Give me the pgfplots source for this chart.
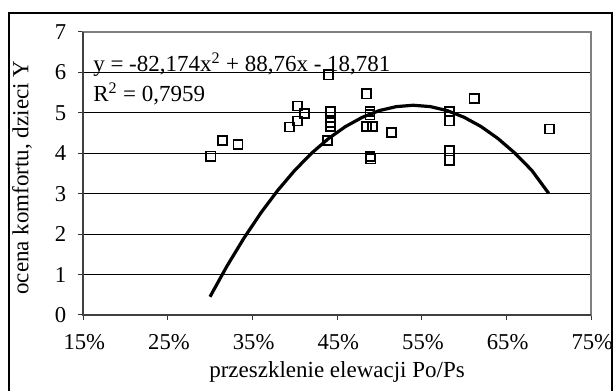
\documentclass[border=0pt]{standalone}
\usepackage{pgfplots}
\pgfplotsset{compat=1.18}
\usepackage{fontspec}
\setmainfont{Liberation Serif}
\begin{document}
\begin{tikzpicture}
\begin{axis}[
  at={(62.25pt,57pt)}, anchor=origin,
  scale only axis, width=381pt, height=212.25pt,
  xmin=15, xmax=75, ymin=0, ymax=7,
  xtick={15,25,35,45,55,65,75},
  xticklabels={15\%,25\%,35\%,45\%,55\%,65\%,75\%},
  ytick={0,1,2,3,4,5,6,7},
  yticklabels={0,1,2,3,4,5,6,7},
  tick align=outside, tick pos=left,
  major tick length=4pt,
  tick style={black!80, line width=0.75pt},
  ymajorgrids, grid style={black, line width=0.75pt},
  axis line style={draw=gray, line width=1pt},
  ticklabel style={font=\fontsize{17}{19}\selectfont},
  xticklabel style={anchor=base, yshift=-22pt, xshift=1pt},
  yticklabel style={xshift=-5pt},
  clip=false,
]
\addplot[only marks, mark=square, mark size=3.4pt, mark options={line width=1.3pt, black, fill=white}] coordinates {
(30.1,3.93) (31.45,4.31) (33.3,4.22) (39.4,4.65) (40.3,5.17) (40.3,4.80)
(41.2,4.99) (44.0,5.94) (44.2,5.03) (44.2,4.76) (44.2,4.66) (43.9,4.31)
(48.5,5.47) (48.9,5.03) (48.9,4.95) (48.5,4.66) (49.2,4.66) (48.9,3.92)
(49.0,3.86) (51.45,4.51) (58.3,5.03) (58.3,4.80) (58.3,4.06) (58.3,3.83)
(61.2,5.36) (70.1,4.60)
};
\addplot[black, line width=2.4pt] coordinates {
(30,0.451) (32,1.208) (34,1.898) (36,2.523) (38,3.082) (40,3.575) (42,4.003)
(44,4.365) (46,4.661) (48,4.891) (50,5.056) (52,5.154) (54,5.188) (56,5.155)
(58,5.057) (60,4.892) (62,4.663) (64,4.367) (66,4.006) (68,3.579) (70,3.01)
};
\draw[black!75, line width=1pt] (rel axis cs:0,1) -- (rel axis cs:0,0) -- (rel axis cs:1,0);
\end{axis}
\node[anchor=base west, inner sep=0pt, font=\fontsize{17.25}{20}\selectfont] at (69.75pt,239.25pt) {y = -82,174x\textsuperscript{2} + 88,76x - 18,781};
\node[anchor=base west, inner sep=0pt, font=\fontsize{17.25}{20}\selectfont] at (69.75pt,216.75pt) {R\textsuperscript{2} = 0,7959};
\node[anchor=base, inner sep=0pt, font=\fontsize{17.25}{20}\selectfont] at (252.75pt,10pt) {przeszklenie elewacji Po/Ps};
\node[anchor=center, rotate=90, inner sep=0pt, font=\fontsize{17.25}{20}\selectfont] at (16.5pt,160pt) {ocena komfortu, dzieci Y};
\fill[white] (459.4pt,-20pt) rectangle (480pt,310pt);
\draw[black, line width=0.9pt] (6.75pt,-10pt) -- (6.75pt,283.5pt) -- (459pt,283.5pt) -- (459pt,-10pt);
\pgfresetboundingbox
\path[use as bounding box] (0,0) rectangle (460.5pt,293.25pt);
\end{tikzpicture}
\end{document}
